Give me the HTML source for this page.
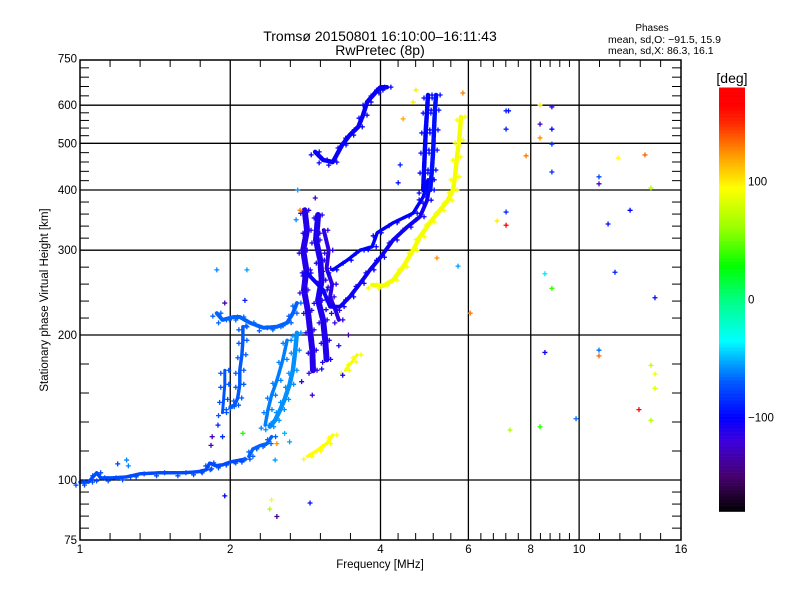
<!DOCTYPE html>
<html><head><meta charset="utf-8"><style>
body{margin:0;background:#fff;}
svg text{font-family:"Liberation Sans",sans-serif;fill:#000;}
</style></head><body>
<svg id="chart" width="800" height="600" viewBox="0 0 800 600" xmlns="http://www.w3.org/2000/svg">
<rect width="800" height="600" fill="#fff"/>
<g id="grid"></g>
<g id="traces"></g>
<g id="marks"></g>
<g id="axes"></g>
<g id="cbar"></g>
<text x="380" y="41" font-size="14" text-anchor="middle">Tromsø 20150801 16:10:00–16:11:43</text>
<text x="380" y="55" font-size="14" text-anchor="middle">RwPretec (8p)</text>
<text x="652" y="31" font-size="10" text-anchor="middle">Phases</text>
<text x="608" y="43" font-size="10.5">mean, sd,O: −91.5, 15.9</text>
<text x="608" y="54" font-size="10.5">mean, sd,X:  86.3, 16.1</text>
<text x="380" y="568" font-size="11.5" text-anchor="middle">Frequency [MHz]</text>
<text transform="translate(48,300) rotate(-90)" font-size="11.5" text-anchor="middle">Stationary phase Virtual Height [km]</text>
<text x="732" y="83" font-size="14" text-anchor="middle">[deg]</text>
</svg>
<script>
// ---- data ----
const xMajorTicks=[1,2,4,6,8,10,16];
const yMajorTicks=[75,100,200,300,400,500,600,750];
const gridFreqs=[2,4,6,8,10];
const gridHeights=[100,200,300,400,500,600];
const cbarTicks=[100,0,-100];

const eFreq=[1,1.04,1.08,1.1,1.16,1.24,1.32,1.45,1.6,1.72,1.79,1.82,1.87,1.93,2.0,2.09,2.15];
const eHeight=[99,99,103.5,101,101,101.5,103,103.5,103.5,104,105,108.5,107,107.5,109,110,110.5];
const ePhase=-75;
const es2Freq=[2.18,2.22,2.3,2.37,2.42];
const es2Height=[112,116,118,119,123];
const es2Phase=-68;

const f1Freq=[1.88,1.93,2.03,2.09,2.19,2.33,2.48,2.60,2.67,2.72];
const f1Height=[222,215,218,218,212,207,208,212,222,233];
const f1Phase=-68;
const f1aFreq=[2.12,2.12,2.11,2.09,2.09,2.07,2.04,2.0];
const f1aHeight=[208,195,182,169,158,148,143,142];
const f1aPhase=-70;
const f1bFreq=[1.95,1.95,1.94,1.93];
const f1bHeight=[169,158,147,138];
const f1bPhase=-72;
const f1cFreq=[2.72,2.70,2.67,2.63,2.57,2.52,2.46,2.40];
const f1cHeight=[202,186,169,158,147,140,133,129];
const f1cPhase=-58;
const f1dFreq=[2.60,2.55,2.48,2.42,2.38,2.35];
const f1dHeight=[195,178,161,150,140,130];
const f1dPhase=-62;

const c1Freq=[2.82,2.85,2.80,2.84,2.81,2.86,2.89,2.92,2.93];
const c1Height=[363,330,300,273,248,225,205,186,169];
const c1Phase=-112;
const c2Freq=[3.0,2.97,3.03,3.05,3.0,3.07,3.10,3.12];
const c2Height=[355,315,286,260,236,215,195,178];
const c2Phase=-110;
const c3Freq=[3.08,3.15,3.12,3.2,3.17,3.25,3.3];
const c3Height=[330,300,275,255,240,225,215];
const c3Phase=-115;

const oLowFreq=[2.85,3.07,3.17,3.32,3.47,3.64,3.81,4.0,4.24,4.52,4.80,4.96,5.03];
const oLowHeight=[269,248,229,229,240,256,273,290,315,335,352,381,420];
const oLowPhase=-105;
const oUpFreq=[3.21,3.43,3.64,3.85,3.94,4.24,4.65,4.87,4.98];
const oUpHeight=[273,286,300,305,326,342,358,387,420];
const oUpPhase=-100;
const oLeftFreq=[4.87,4.89,4.91,4.93,4.96,4.98];
const oLeftHeight=[400,440,484,533,586,630];
const oLeftPhase=-100;
const oRightFreq=[5.03,5.07,5.10,5.12,5.14,5.17];
const oRightHeight=[400,440,484,533,586,630];
const oRightPhase=-95;
const arcFreq=[2.96,3.07,3.21,3.35,3.47,3.61,3.69,3.76,3.90,4.0,4.12];
const arcHeight=[480,462,457,496,520,541,572,609,636,654,654];
const arcPhase=-103;

const xFreq=[3.85,4.05,4.24,4.44,4.65,4.80,5.03,5.26,5.46,5.59,5.64,5.69,5.75,5.80];
const xHeight=[254,253,260,277,300,320,343,363,381,400,426,468,508,567];
const xPhase=92;
const y1Freq=[2.86,2.98,3.12,3.21];
const y1Height=[112,115,119,124];
const y1Phase=95;
const y2Freq=[3.40,3.51,3.59];
const y2Height=[169,176,182];
const y2Phase=92;

const scatterFreq=[7.14,7.14,7.83,8.35,8.82,8.35,8.82,8.35,8.82,8.82,10.96,10.96,11.97,13.55,13.93,7.14,7.14,6.85,12.65,11.43,5.19,5.72,8.54,8.82,11.8,14.19,6.05,8.54,10.96,10.96,13.93,14.19,14.19,13.18,13.93,9.86,8.35,7.27,4.71,4.65,5.85,7.22,4.44,4.38,4.34,1.19,1.24,1.25,1.95,2.42,2.40,2.48,2.89,1.93,1.84,2.12,1.89,1.83,2.48,2.46,2.57,2.63,2.16,2.76,2.96,2.73,2.71,1.88,1.95,2.14,3.3,3.45,2.78,3.36,2.92,3.05];
const scatterHeight=[584,535,471,600,595,548,535,513,498,436,426,412,466,473,404,360,338,345,363,340,289,278,268,250,270,239,222,184,186,181,173,166,155,140,133,134,129,127,645,609,636,584,562,451,414,108,110,107,92.7,91,87,84,89.6,123,123,125,130,118,119,110,125,120,273,363,385,400,347,273,233,236,190,200,160,165,150,170];
const scatterPhase=[-90,-90,130,100,-110,-130,-100,125,-85,-85,-75,-120,95,135,70,-85,165,100,-100,-95,125,-55,-40,40,-90,-95,130,-105,-65,135,75,90,85,170,70,-65,35,70,100,100,130,-95,120,-90,-95,-80,-60,-60,-100,95,70,-140,-95,-85,-130,35,-90,-130,125,-55,-50,-55,-55,130,-125,-55,-60,-60,-130,-90,-110,-140,-115,-105,-120,-100];

// ---- axes ----
const L=80,R=681,T=60,B=540;
function xScale(f){return L+Math.log2(f)*150.25;}
function yScale(h){return 480-Math.log2(h/100)*145;}
function cScale(p){return 299.5-p*(424/360);}
const stops=[[-180,0,0,0],[-150,70,0,110],[-120,60,0,220],[-100,0,0,255],[-70,0,90,255],[-50,0,180,255],[-35,0,255,255],[0,0,255,130],[28,0,255,0],[60,150,255,0],[95,255,255,0],[120,255,165,0],[150,255,40,0],[165,255,0,0],[180,255,0,0]];
function color(p){
  p=Math.max(-180,Math.min(180,p));
  for(let i=0;i<stops.length-1;i++){
    const a=stops[i],b=stops[i+1];
    if(p>=a[0]&&p<=b[0]){const t=(p-a[0])/(b[0]-a[0]||1);
      return 'rgb('+[1,2,3].map(k=>Math.round(a[k]+(b[k]-a[k])*t)).join(',')+')';}
  }
  return 'rgb(255,0,0)';
}
const NS='http://www.w3.org/2000/svg';
function mk(tag,attrs,parent){const e=document.createElementNS(NS,tag);for(const k in attrs)e.setAttribute(k,attrs[k]);parent.appendChild(e);return e;}
const grid=document.getElementById('grid'),axes=document.getElementById('axes'),traces=document.getElementById('traces'),marks=document.getElementById('marks'),cbar=document.getElementById('cbar');

gridFreqs.forEach(f=>{const x=xScale(f);
  const l=mk('line',{x1:x,x2:x,y1:T,y2:B,stroke:'#000','stroke-width':1.3},grid);
  
  
});
gridHeights.forEach(h=>{const y=yScale(h);
  const l=mk('line',{x1:L,x2:R,y1:y,y2:y,stroke:'#000','stroke-width':1.3},grid);
  
  
});
const frame=mk('rect',{x:L,y:T,width:R-L,height:B-T,fill:'none',stroke:'#000','stroke-width':1.5},axes);


for(let i=0;i<xMajorTicks.length-1;i++){const a=xScale(xMajorTicks[i]),b=xScale(xMajorTicks[i+1]);
  for(let k=1;k<5;k++){const x=a+(b-a)*k/5;
    mk('line',{x1:x,x2:x,y1:B,y2:B-7,stroke:'#000','stroke-width':1},axes);
    mk('line',{x1:x,x2:x,y1:T,y2:T+7,stroke:'#000','stroke-width':1},axes);}}
for(let i=0;i<yMajorTicks.length-1;i++){const a=yScale(yMajorTicks[i]),b=yScale(yMajorTicks[i+1]);
  for(let k=1;k<5;k++){const y=a+(b-a)*k/5;
    mk('line',{x1:L,x2:L+9,y1:y,y2:y,stroke:'#000','stroke-width':1},axes);
    mk('line',{x1:R,x2:R-9,y1:y,y2:y,stroke:'#000','stroke-width':1},axes);}}
xMajorTicks.forEach(f=>{const t=mk('text',{x:xScale(f),y:553,'font-size':11.5,'text-anchor':'middle'},axes);t.textContent=f;
  
  });
yMajorTicks.forEach(h=>{const t=mk('text',{x:L-3,y:yScale(h)+4,'font-size':11.5,'text-anchor':'end'},axes);t.textContent=h;
  
  });

for(let p=-180;p<180;p+=1){
  mk('rect',{x:719,y:cScale(p+1),width:26,height:424/360+0.3,fill:color(p+0.5)},cbar);}
cbarTicks.forEach(p=>{const t=mk('text',{x:748,y:cScale(p)+4,'font-size':11.5},cbar);t.textContent=p===0?'0':(p<0?'−'+(-p):p);
  
  });

function plus(x,y,c,parent){
  const p=mk('path',{d:`M${x-2.5},${y}h5M${x},${y-2.5}v5`,stroke:c,'stroke-width':1.3},parent);
  
  
}
function drawTrace(fs,hs,ph,w,name){
  const pts=fs.map((f,i)=>xScale(f).toFixed(1)+','+yScale(hs[i]).toFixed(1)).join(' ');
  const pl=mk('polyline',{points:pts,fill:'none',stroke:color(ph),'stroke-width':w,'stroke-linejoin':'round','stroke-linecap':'round','stroke-dasharray':'6 1.5'},traces);
  
  
  fs.forEach((f,i)=>{plus(xScale(f)+4,yScale(hs[i]),color(ph),traces);plus(xScale(f)-4,yScale(hs[i])+3,color(ph),traces);});
}
drawTrace(eFreq,eHeight,ePhase,3.5,'e-layer-trace');
drawTrace(es2Freq,es2Height,es2Phase,3.5,'e-rise-trace');
drawTrace(f1Freq,f1Height,f1Phase,4,'f1-trace');
drawTrace(f1aFreq,f1aHeight,f1aPhase,3.5,'f1-strand-a');
drawTrace(f1bFreq,f1bHeight,f1bPhase,3,'f1-strand-b');
drawTrace(f1cFreq,f1cHeight,f1cPhase,4.5,'f1-strand-c');
drawTrace(f1dFreq,f1dHeight,f1dPhase,3.5,'f1-strand-d');
drawTrace(c1Freq,c1Height,c1Phase,6,'spread-cluster-1');
drawTrace(c2Freq,c2Height,c2Phase,6,'spread-cluster-2');
drawTrace(c3Freq,c3Height,c3Phase,4,'spread-cluster-3');
drawTrace(oLowFreq,oLowHeight,oLowPhase,4,'f2-o-lower-trace');
drawTrace(oUpFreq,oUpHeight,oUpPhase,3.5,'f2-o-upper-trace');
drawTrace(oLeftFreq,oLeftHeight,oLeftPhase,4.5,'f2-o-left-strand');
drawTrace(oRightFreq,oRightHeight,oRightPhase,4.5,'f2-o-right-strand');
drawTrace(arcFreq,arcHeight,arcPhase,4.5,'f2-upper-arc');
drawTrace(xFreq,xHeight,xPhase,4.5,'f2-x-trace');
drawTrace(y1Freq,y1Height,y1Phase,3.5,'yellow-low-trace');
drawTrace(y2Freq,y2Height,y2Phase,3,'yellow-mid-trace');
scatterFreq.forEach((f,i)=>plus(xScale(f),yScale(scatterHeight[i]),color(scatterPhase[i]),marks));
</script>
</body></html>
